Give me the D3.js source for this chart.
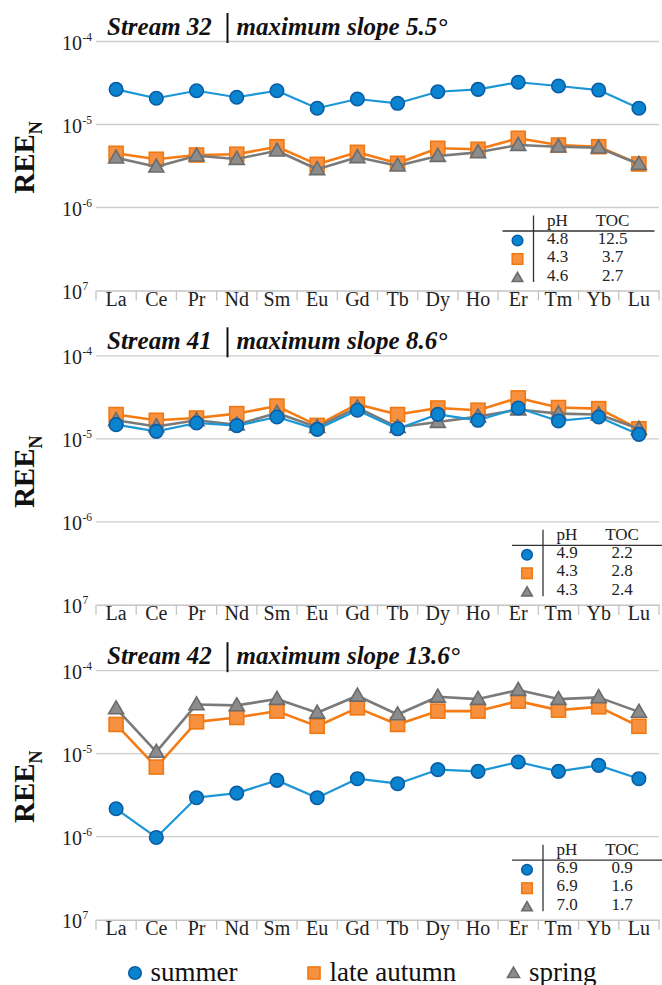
<!DOCTYPE html>
<html>
<head>
<meta charset="utf-8">
<script src="https://cdn.jsdelivr.net/npm/d3@7/dist/d3.min.js"></script>
<style>
  html, body { margin: 0; padding: 0; background: #fff; }
  svg { display: block; }
  text { font-family: "Liberation Serif", "Times New Roman", serif; }
</style>
</head>
<body>
<svg id="chart" width="662" height="985"></svg>
<script>
// Rare earth elements on the x axis
const elements = ["La","Ce","Pr","Nd","Sm","Eu","Gd","Tb","Dy","Ho","Er","Tm","Yb","Lu"];

// Stream 32 (maximum slope 5.5°)
const s32Summer = [2.65e-5,2.07e-5,2.55e-5,2.13e-5,2.55e-5,1.57e-5,2.03e-5,1.80e-5,2.48e-5,2.65e-5,3.23e-5,2.91e-5,2.60e-5,1.57e-5];
const s32Autumn = [4.50e-6,3.81e-6,4.29e-6,4.38e-6,5.40e-6,3.31e-6,4.62e-6,3.41e-6,5.17e-6,5.03e-6,6.82e-6,5.66e-6,5.40e-6,3.34e-6];
const s32Spring = [3.98e-6,3.10e-6,4.21e-6,3.84e-6,4.83e-6,2.89e-6,4.03e-6,3.19e-6,4.17e-6,4.62e-6,5.66e-6,5.40e-6,5.25e-6,3.34e-6];

// Stream 41 (maximum slope 8.6°)
const s41Summer = [1.48e-5,1.23e-5,1.55e-5,1.44e-5,1.83e-5,1.30e-5,2.21e-5,1.32e-5,1.97e-5,1.67e-5,2.35e-5,1.64e-5,1.83e-5,1.13e-5];
const s41Autumn = [1.96e-5,1.67e-5,1.78e-5,2.01e-5,2.48e-5,1.45e-5,2.61e-5,1.96e-5,2.35e-5,2.21e-5,3.11e-5,2.38e-5,2.31e-5,1.32e-5];
const s41Spring = [1.67e-5,1.41e-5,1.67e-5,1.48e-5,2.05e-5,1.38e-5,2.38e-5,1.38e-5,1.59e-5,1.85e-5,2.25e-5,2.01e-5,1.96e-5,1.32e-5];

// Stream 42 (maximum slope 13.6°)
const s42Summer = [2.17e-6,9.8e-7,2.95e-6,3.35e-6,4.77e-6,2.95e-6,5.00e-6,4.35e-6,6.42e-6,6.12e-6,7.94e-6,6.12e-6,7.24e-6,5.00e-6];
const s42Autumn = [2.25e-5,6.90e-6,2.42e-5,2.73e-5,3.26e-5,2.14e-5,3.57e-5,2.25e-5,3.26e-5,3.26e-5,4.30e-5,3.35e-5,3.67e-5,2.14e-5];
const s42Spring = [3.51e-5,1.05e-5,3.92e-5,3.82e-5,4.55e-5,3.11e-5,4.99e-5,2.97e-5,4.85e-5,4.55e-5,5.85e-5,4.55e-5,4.77e-5,3.19e-5];

// Water chemistry per season: summer, late autumn, spring
const s32PH = ["4.8","4.3","4.6"], s32TOC = ["12.5","3.7","2.7"];
const s41PH = ["4.9","4.3","4.3"], s41TOC = ["2.2","2.8","2.4"];
const s42PH = ["6.9","6.9","7.0"], s42TOC = ["0.9","1.6","1.7"];

const streamNames = ["Stream 32","Stream 41","Stream 42"];
const slopeLabels = ["maximum slope 5.5°","maximum slope 8.6°","maximum slope 13.6°"];
const seasons = ["summer","late autumn","spring"];

const yTicks = [1e-4, 1e-5, 1e-6, 1e-7];
const yTickExp = ["-4","-5","-6","7"];

const panels = [
  { name: streamNames[0], slope: slopeLabels[0], top: 41.5, data: [s32Summer, s32Autumn, s32Spring], ph: s32PH, toc: s32TOC, tableX: 533.5 },
  { name: streamNames[1], slope: slopeLabels[1], top: 355.8, data: [s41Summer, s41Autumn, s41Spring], ph: s41PH, toc: s41TOC, tableX: 543 },
  { name: streamNames[2], slope: slopeLabels[2], top: 670.7, data: [s42Summer, s42Autumn, s42Spring], ph: s42PH, toc: s42TOC, tableX: 543 }
];

const style = [
  { line: "#1b96d6", fill: "#0b84d0", stroke: "#0a5da4", lw: 2.2, shape: "circle" },
  { line: "#f57c14", fill: "#f7913f", stroke: "#f07812", lw: 2.6, shape: "square" },
  { line: "#7a7a7a", fill: "#8c8c8c", stroke: "#6c6c6c", lw: 2.6, shape: "triangle" }
];
// drawing order: late autumn, spring, summer on top
const drawOrder = [1, 2, 0];

const svg = d3.select("#chart");
const plotLeft = 96, plotRight = 659, plotH = 249;

const x = d3.scaleBand().domain(elements).range([plotLeft, plotRight]);

function marker(g, shape, cx, cy, s, st) {
  if (shape === "circle") {
    g.append("circle").attr("cx", cx).attr("cy", cy).attr("r", s / 2)
      .attr("fill", st.fill).attr("stroke", st.stroke).attr("stroke-width", 1.6);
  } else if (shape === "square") {
    g.append("rect").attr("x", cx - s / 2).attr("y", cy - s / 2).attr("width", s).attr("height", s)
      .attr("fill", st.fill).attr("stroke", st.stroke).attr("stroke-width", 1.6);
  } else {
    const area = Math.sqrt(3) / 4 * s * s;
    g.append("path").attr("d", d3.symbol().type(d3.symbolTriangle).size(area)())
      .attr("transform", `translate(${cx},${cy + 1})`)
      .attr("fill", st.fill).attr("stroke", st.stroke).attr("stroke-width", 1.6);
  }
}

panels.forEach(p => {
  const bottom = p.top + plotH;
  const y = d3.scaleLog().domain([1e-7, 1e-4]).range([bottom, p.top]);
  const g = svg.append("g");

  // gridlines
  g.selectAll("line.grid").data(yTicks.slice(0, 3)).join("line")
    .attr("x1", plotLeft).attr("x2", plotRight)
    .attr("y1", d => y(d)).attr("y2", d => y(d))
    .attr("stroke", "#cdcdcd").attr("stroke-width", 1.3);

  // y tick labels as powers of ten
  yTicks.forEach((t, i) => {
    g.append("text").attr("x", 82).attr("y", y(t) + 8.5)
      .attr("text-anchor", "end").attr("font-size", 20).attr("fill", "#222").text("10");
    g.append("text").attr("x", 82.5).attr("y", y(t) - 0.5)
      .attr("font-size", 11.5).attr("fill", "#222").text(yTickExp[i]);
  });

  // x axis with category labels
  const ax = g.append("g").attr("transform", `translate(0,${bottom})`)
    .call(d3.axisBottom(x).tickSize(0).tickPadding(0));
  ax.select(".domain").attr("stroke", "#c4c4c4").attr("stroke-width", 1.6);
  ax.selectAll("text").attr("font-size", 20).attr("fill", "#222")
    .attr("font-family", "Liberation Serif, serif").attr("dy", 0).attr("y", 15.5);
  // boundary ticks between categories
  const bounds = elements.map(e => x(e)).concat([plotRight]);
  g.selectAll("line.sep").data(bounds).join("line")
    .attr("x1", d => d).attr("x2", d => d)
    .attr("y1", bottom).attr("y2", bottom + 10)
    .attr("stroke", "#c4c4c4").attr("stroke-width", 1.3);

  // y axis title
  const yt = g.append("text")
    .attr("transform", `translate(34,${(p.top + bottom) / 2 - 8.5}) rotate(-90)`)
    .attr("text-anchor", "middle").attr("font-size", 29).attr("font-weight", "bold").attr("fill", "#111");
  yt.append("tspan").text("REE");
  yt.append("tspan").attr("font-size", 18).attr("dy", 8).text("N");

  // panel title
  g.append("text").attr("x", 107).attr("y", p.top - 6.5)
    .attr("font-size", 25).attr("font-weight", "bold").attr("font-style", "italic").attr("fill", "#111")
    .text(p.name);
  g.append("line").attr("x1", 227.5).attr("x2", 227.5).attr("y1", p.top - 28.5).attr("y2", p.top + 1.5)
    .attr("stroke", "#111").attr("stroke-width", 2);
  g.append("text").attr("x", 236.5).attr("y", p.top - 6.5)
    .attr("font-size", 25).attr("font-weight", "bold").attr("font-style", "italic").attr("fill", "#111")
    .text(p.slope);

  // series
  drawOrder.forEach(si => {
    const st = style[si];
    const vals = p.data[si];
    const line = d3.line().x((d, i) => x(elements[i]) + x.bandwidth() / 2).y(d => y(d));
    g.append("path").attr("d", line(vals)).attr("fill", "none")
      .attr("stroke", st.line).attr("stroke-width", st.lw).attr("stroke-linejoin", "round");
    const mg = g.append("g");
    vals.forEach((v, i) => {
      const size = st.shape === "circle" ? 13.5 : st.shape === "square" ? 14 : 15;
      marker(mg, st.shape, x(elements[i]) + x.bandwidth() / 2, y(v), size, st);
    });
  });

  // pH / TOC table
  const tx = p.tableX, ty = p.top;
  const tg = g.append("g");
  tg.append("line").attr("x1", tx).attr("x2", tx).attr("y1", ty + 174).attr("y2", ty + 240.5)
    .attr("stroke", "#333").attr("stroke-width", 1.3);
  tg.append("line").attr("x1", tx - 31).attr("x2", Math.min(tx + 121, 662)).attr("y1", ty + 189.5).attr("y2", ty + 189.5)
    .attr("stroke", "#333").attr("stroke-width", 1.3);
  tg.append("text").attr("x", tx + 24).attr("y", ty + 184).attr("text-anchor", "middle")
    .attr("font-size", 17).attr("fill", "#222").text("pH");
  tg.append("text").attr("x", tx + 79).attr("y", ty + 184).attr("text-anchor", "middle")
    .attr("font-size", 17).attr("fill", "#222").text("TOC");
  seasons.forEach((s, i) => {
    const ry = ty + 202 + i * 18.5;
    tg.append("text").attr("x", tx + 24).attr("y", ry).attr("text-anchor", "middle")
      .attr("font-size", 17).attr("fill", "#222").text(p.ph[i]);
    tg.append("text").attr("x", tx + 79).attr("y", ry).attr("text-anchor", "middle")
      .attr("font-size", 17).attr("fill", "#222").text(p.toc[i]);
    marker(tg, style[i].shape, tx - 16, ry - 3, 10.5, style[i]);
  });
});

// legend
const legendX = [135, 314, 513.5];
const lg = svg.append("g");
seasons.forEach((s, i) => {
  marker(lg, style[i].shape, legendX[i], 973, i === 0 ? 12.5 : 12, style[i]);
  lg.append("text").attr("x", legendX[i] + 15.5).attr("y", 980.5)
    .attr("font-size", 27).attr("fill", "#111").text(s);
});
</script>
</body>
</html>
